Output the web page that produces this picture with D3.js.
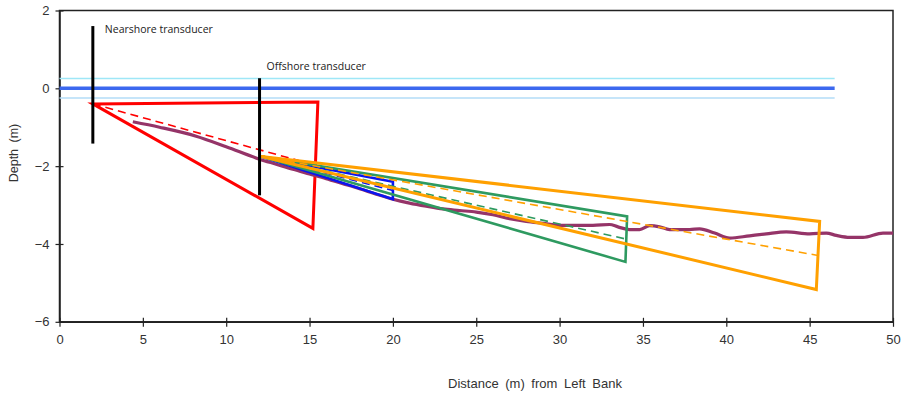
<!DOCTYPE html>
<html>
<head>
<meta charset="utf-8">
<script src="https://cdn.jsdelivr.net/npm/d3@7"></script>
<style>
  body { margin: 0; background: #fff; }
  svg text { font-family: "Liberation Sans", Arial, sans-serif; fill: #333; }
  .note { font-family: "Open Sans", sans-serif; font-size: 10.5px; fill: #222; }
</style>
</head>
<body>
<div id="chart"></div>
<script>
// Lecho del río (perfil)
const bedX = [4.4, 6, 8.2, 10, 12, 13, 14, 15, 16, 17, 18, 19, 20, 21, 22, 23, 24, 25, 26, 27, 28, 29, 30, 31, 32, 33, 33.5, 34.2, 34.8, 35.4, 36.0, 36.6, 37.8, 38.4, 39.3, 40.2, 41.4, 42.4, 43.6, 45.0, 46.0, 46.6, 47.4, 48.2, 49.4, 50];
const bedY = [-0.86, -1.0, -1.23, -1.5, -1.82, -1.95, -2.08, -2.2, -2.32, -2.45, -2.58, -2.72, -2.85, -2.95, -3.03, -3.1, -3.14, -3.18, -3.25, -3.35, -3.42, -3.47, -3.52, -3.52, -3.52, -3.5, -3.56, -3.63, -3.63, -3.53, -3.56, -3.63, -3.63, -3.61, -3.72, -3.85, -3.79, -3.74, -3.69, -3.74, -3.72, -3.78, -3.83, -3.83, -3.72, -3.72];

// Haces: vértice, borde superior, borde inferior
const redBeam = [[2, -0.4], [15.5, -0.35], [15.2, -3.6]];
const blueBeam = [[12.1, -1.75], [20, -2.4], [20, -2.85]];
const greenBeam = [[12.1, -1.75], [34.05, -3.29], [33.95, -4.46]];
const orangeBeam = [[12.1, -1.75], [45.6, -3.42], [45.4, -5.17]];

// Nivel del agua
const waterLevels = [0.25, 0, -0.25];
const waterEnd = 46.5;

// Transductores
const transducerX = [2, 12];
const transducerTop = [1.6, 0.26];
const transducerBottom = [-1.42, -2.75];
const transducerNames = ['Nearshore transducer', 'Offshore transducer'];

const xTicks = [0, 5, 10, 15, 20, 25, 30, 35, 40, 45, 50];
const yTicks = [2, 0, -2, -4, -6];

const W = 907, H = 393;
const margin = { top: 10.5, right: 14, bottom: 72, left: 59.5 };

const svg = d3.select('#chart').append('svg')
  .attr('width', W).attr('height', H);

const x = d3.scaleLinear().domain([0, 50]).range([margin.left, W - margin.right]);
const y = d3.scaleLinear().domain([-6, 2]).range([H - margin.bottom + 0.8, margin.top]);

// Marco
svg.append('rect')
  .attr('x', x(0)).attr('y', y(2))
  .attr('width', x(50) - x(0)).attr('height', y(-6) - y(2))
  .style('fill', 'none').style('stroke', '#222').style('stroke-width', 1.5);

// Ejes
const xAxis = svg.append('g')
  .attr('transform', `translate(0,${y(-6)})`)
  .call(d3.axisBottom(x).tickValues(xTicks).tickSizeInner(5).tickSizeOuter(0).tickPadding(8));
xAxis.selectAll('.tick line').attr('y1', -4).attr('y2', 5);

const yAxis = svg.append('g')
  .attr('transform', `translate(${x(0)},0)`)
  .call(d3.axisLeft(y).tickValues(yTicks).tickSizeInner(4).tickSizeOuter(0).tickPadding(6));
yAxis.selectAll('.tick line').attr('x1', -4).attr('x2', 4);

svg.selectAll('.domain').style('stroke', '#222').style('stroke-width', 1.5);
svg.selectAll('.tick line').style('stroke', '#222').style('stroke-width', 1.2);
svg.selectAll('.tick text').style('font-size', '13px').style('fill', '#333')
  .style('font-family', '"Liberation Sans", Arial, sans-serif');

// Títulos de ejes
svg.append('text')
  .attr('x', 535).attr('y', 388)
  .attr('text-anchor', 'middle')
  .style('font-size', '13px')
  .style('word-spacing', '3px')
  .text('Distance (m) from Left Bank');

svg.append('text')
  .attr('transform', `translate(18,${153}) rotate(-90)`)
  .attr('text-anchor', 'middle')
  .style('font-size', '12.5px')
  .style('word-spacing', '3px')
  .text('Depth (m)');

// Nivel del agua
const waterColors = ['#9ee7f7', '#3c68ef', '#b3dcf7'];
const waterWidths = [1.5, 3.5, 1.5];
waterLevels.forEach((lv, i) => {
  svg.append('line')
    .attr('x1', x(0)).attr('x2', x(waterEnd))
    .attr('y1', y(lv)).attr('y2', y(lv))
    .style('stroke', waterColors[i])
    .style('stroke-width', waterWidths[i]);
});

// Haces
function drawBeam(beam, color, width) {
  const [apex, top, bottom] = beam;
  svg.append('path')
    .attr('d', d3.line().x(d => x(d[0])).y(d => y(d[1]))([apex, top, bottom]) + 'Z')
    .style('fill', 'none').style('stroke', color)
    .style('stroke-width', width).style('stroke-linejoin', 'miter');
  const mid = [(top[0] + bottom[0]) / 2, (top[1] + bottom[1]) / 2];
  svg.append('line')
    .attr('x1', x(apex[0])).attr('y1', y(apex[1]))
    .attr('x2', x(mid[0])).attr('y2', y(mid[1]))
    .style('stroke', color).style('stroke-width', 1.6)
    .style('stroke-dasharray', '8,5');
}

drawBeam(redBeam, '#ff0000', 3);

// Perfil del lecho
svg.append('path')
  .datum(bedX.map((v, i) => [v, bedY[i]]))
  .attr('d', d3.line().x(d => x(d[0])).y(d => y(d[1])).curve(d3.curveMonotoneX))
  .style('fill', 'none').style('stroke', '#953468').style('stroke-width', 3.2);

drawBeam(blueBeam, '#0a14f0', 2.6);
drawBeam(greenBeam, '#2e9a60', 2.6);
drawBeam(orangeBeam, '#ffa000', 3);

// Transductores
transducerX.forEach((tx, i) => {
  svg.append('line')
    .attr('x1', x(tx)).attr('x2', x(tx))
    .attr('y1', y(transducerTop[i])).attr('y2', y(transducerBottom[i]))
    .style('stroke', '#000').style('stroke-width', 3);
});

svg.append('text').attr('class', 'note')
  .attr('x', x(2) + 12).attr('y', 33)
  .text(transducerNames[0]);
svg.append('text').attr('class', 'note')
  .attr('x', x(12) + 7).attr('y', 70)
  .text(transducerNames[1]);
</script>
</body>
</html>
